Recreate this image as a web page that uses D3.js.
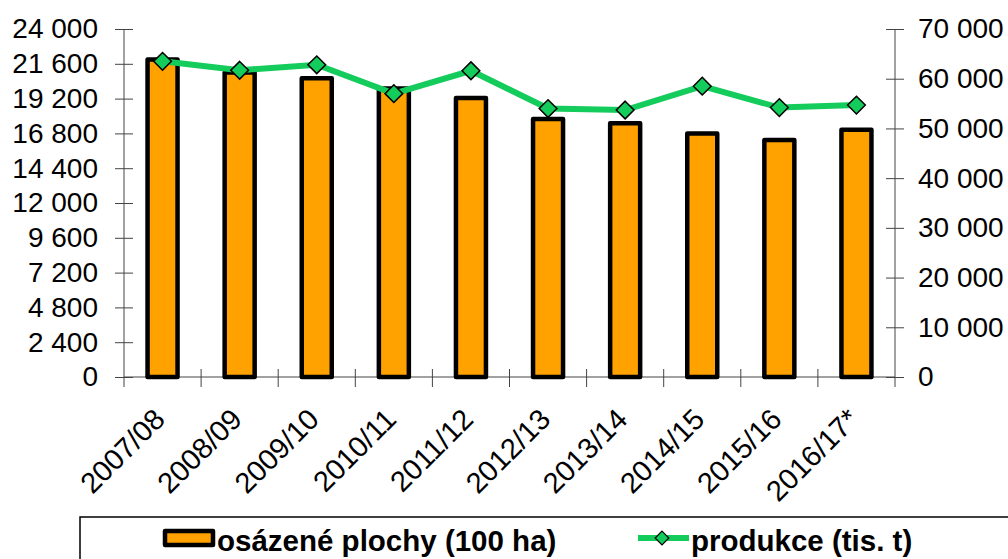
<!DOCTYPE html>
<html>
<head>
<meta charset="utf-8">
<script src="https://cdn.jsdelivr.net/npm/d3@7"></script>
<style>
  body { margin: 0; background: #fff; }
  text { font-family: "Liberation Sans", Arial, sans-serif; }
</style>
</head>
<body>
<svg width="1008" height="559"></svg>
<script>
// Data
const categories = ["2007/08", "2008/09", "2009/10", "2010/11", "2011/12",
  "2012/13", "2013/14", "2014/15", "2015/16", "2016/17*"];
const plochy = [21900, 21000, 20600, 19900, 19250, 17800, 17500, 16800, 16350, 17050];
const produkce = [63500, 61700, 62800, 57000, 61600, 54000, 53700, 58500, 54200, 54700];
const leftTicks = [0, 2400, 4800, 7200, 9600, 12000, 14400, 16800, 19200, 21600, 24000];
const rightTicks = [0, 10000, 20000, 30000, 40000, 50000, 60000, 70000];
const legendLabels = ["osázené plochy (100 ha)", "produkce (tis. t)"];

const svg = d3.select("svg");
const plotLeft = 124, plotRight = 895, plotTop = 29, plotBottom = 377;

const fmt = d3.formatLocale({decimal: ",", thousands: " ", grouping: [3], currency: ["", ""]}).format(",d");

var x = d3.scaleBand().domain(categories).range([plotLeft, plotRight]).padding(0);
var yL = d3.scaleLinear().domain([0, 24000]).range([plotBottom, plotTop]);
var yR = d3.scaleLinear().domain([0, 70000]).range([plotBottom, plotTop]);

const axisColor = "#444";
const orange = "#ffa200", green = "#14cc5c";

// left axis
var gL = svg.append("g")
    .attr("transform", "translate(" + plotLeft + ",0)")
    .call(d3.axisLeft(yL).tickValues(leftTicks).tickFormat(fmt).tickSize(9).tickPadding(17));
gL.select(".domain").remove();
gL.selectAll(".tick line").attr("x1", -9).attr("x2", 9).attr("stroke", axisColor);
gL.selectAll(".tick text").attr("font-size", 28).attr("font-family", "Liberation Sans, Arial").attr("fill", "#000");
gL.append("line").attr("y1", plotTop).attr("y2", plotBottom + 10).attr("stroke", axisColor);

// right axis
var gR = svg.append("g")
    .attr("transform", "translate(" + plotRight + ",0)")
    .call(d3.axisRight(yR).tickValues(rightTicks).tickFormat(fmt).tickSize(9).tickPadding(14));
gR.select(".domain").remove();
gR.selectAll(".tick line").attr("x1", -9).attr("x2", 9).attr("stroke", axisColor);
gR.selectAll(".tick text").attr("font-size", 28).attr("font-family", "Liberation Sans, Arial").attr("fill", "#000");
gR.append("line").attr("y1", plotTop).attr("y2", plotBottom + 10).attr("stroke", axisColor);

// x axis with crossing ticks on category boundaries
var gX = svg.append("g");
gX.append("line").attr("x1", plotLeft).attr("x2", plotRight).attr("y1", plotBottom).attr("y2", plotBottom).attr("stroke", axisColor);
gX.selectAll(".bnd")
    .data(categories.slice(1))
    .enter().append("line")
    .attr("x1", d => x(d)).attr("x2", d => x(d))
    .attr("y1", plotBottom - 8).attr("y2", plotBottom + 10)
    .attr("stroke", axisColor);

gX.selectAll(".lbl")
    .data(categories)
    .enter().append("text")
    .attr("transform", d => "translate(" + (x(d) + x.bandwidth() / 2 + 4) + "," + (plotBottom + 44) + ") rotate(-45)")
    .attr("text-anchor", "end")
    .attr("font-size", 29)
    .text(d => d);

// bars
const barW = 30;
svg.selectAll(".bar")
    .data(categories)
    .enter().append("rect")
    .attr("x", d => x(d) + x.bandwidth() / 2 - barW / 2)
    .attr("y", (d, i) => yL(plochy[i]))
    .attr("width", barW)
    .attr("height", (d, i) => plotBottom - yL(plochy[i]))
    .attr("fill", orange)
    .attr("stroke", "#000")
    .attr("stroke-width", 4.5)
    .attr("stroke-linejoin", "round");

// production line
var line = d3.line()
    .x((d, i) => x(categories[i]) + x.bandwidth() / 2)
    .y(d => yR(d));

svg.append("path")
    .datum(produkce)
    .attr("d", line)
    .attr("fill", "none")
    .attr("stroke", green)
    .attr("stroke-width", 6);

var diamond = d3.symbol().type(d3.symbolDiamond2).size(200);
svg.selectAll(".pt")
    .data(produkce)
    .enter().append("path")
    .attr("d", diamond)
    .attr("transform", (d, i) => "translate(" + (x(categories[i]) + x.bandwidth() / 2) + "," + yR(d) + ")")
    .attr("fill", green)
    .attr("stroke", "#000")
    .attr("stroke-width", 1.5);

// legend
var lg = svg.append("g");
lg.append("rect")
    .attr("x", 80).attr("y", 517).attr("width", 1000).attr("height", 80)
    .attr("fill", "#fff").attr("stroke", "#000").attr("stroke-width", 1.5);

lg.append("rect")
    .attr("x", 165).attr("y", 531).attr("width", 48).attr("height", 14)
    .attr("fill", orange).attr("stroke", "#000").attr("stroke-width", 4.5)
    .attr("stroke-linejoin", "round");
lg.append("text")
    .attr("x", 217).attr("y", 551)
    .attr("font-size", 29.5).attr("font-weight", "bold")
    .text(legendLabels[0]);

lg.append("line")
    .attr("x1", 638).attr("x2", 689).attr("y1", 538).attr("y2", 538)
    .attr("stroke", green).attr("stroke-width", 6);
lg.append("path")
    .attr("d", d3.symbol().type(d3.symbolDiamond2).size(120))
    .attr("transform", "translate(662,538)")
    .attr("fill", green).attr("stroke", "#000").attr("stroke-width", 1.2);
lg.append("text")
    .attr("x", 691).attr("y", 551)
    .attr("font-size", 29.5).attr("font-weight", "bold")
    .text(legendLabels[1]);
</script>
</body>
</html>
